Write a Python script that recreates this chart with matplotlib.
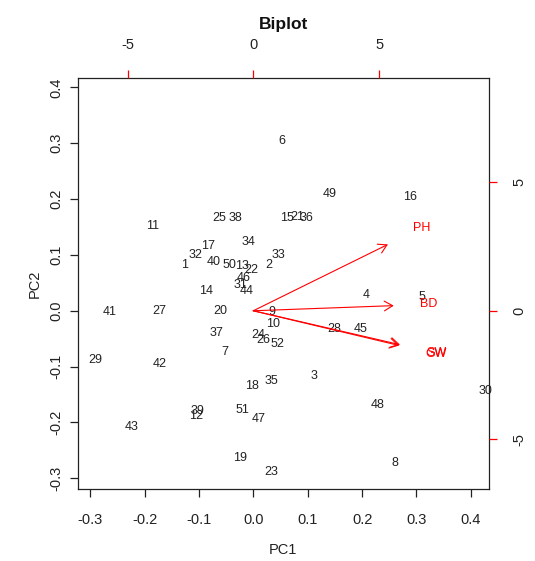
import matplotlib
matplotlib.use("Agg")
import matplotlib.pyplot as plt
import numpy as np

plt.rcParams['font.family'] = ['Liberation Sans', 'DejaVu Sans']

# Observation scores (PC1, PC2) labelled 1..52
obs_labels = [str(i) for i in range(1, 53)]
pc1 = [-0.126, 0.029, 0.112, 0.207, 0.310, 0.053, -0.052, 0.260, 0.034, 0.036,
       -0.185, -0.105, -0.020, -0.086, 0.062, 0.288, -0.083, -0.002, -0.024, -0.061,
       0.080, -0.004, 0.033, 0.009, -0.063, 0.018, -0.173, 0.149, -0.290, 0.426,
       -0.023, -0.106, 0.047, -0.009, 0.033, 0.097, -0.067, -0.032, -0.103, -0.072,
       -0.264, -0.172, -0.223, -0.012, 0.198, -0.017, 0.010, 0.228, 0.140, -0.044,
       -0.020, 0.044]
pc2 = [0.082, 0.082, -0.117, 0.028, 0.025, 0.304, -0.073, -0.273, -0.002, -0.024,
       0.152, -0.188, 0.081, 0.036, 0.166, 0.203, 0.116, -0.135, -0.264, 0.000,
       0.168, 0.073, -0.289, -0.043, 0.167, -0.052, 0.000, -0.033, -0.088, -0.144,
       0.047, 0.100, 0.100, 0.123, -0.126, 0.166, -0.039, 0.167, -0.179, 0.088,
       -0.002, -0.095, -0.209, 0.036, -0.033, 0.059, -0.193, -0.169, 0.209, 0.082,
       -0.178, -0.060]

# Variable loadings (secondary axes)
var_labels = ["PH", "BD", "SW", "GW"]
var_x = [6.69, 6.98, 7.29, 7.25]
var_y = [3.23, 0.25, -1.65, -1.69]

x_ticks = [-0.3, -0.2, -0.1, 0.0, 0.1, 0.2, 0.3, 0.4]
y_ticks = [-0.3, -0.2, -0.1, 0.0, 0.1, 0.2, 0.3, 0.4]
sec_ticks = [-5, 0, 5]

W, H = 535, 561
fig = plt.figure(figsize=(W / 100, H / 100), dpi=100)
pos = [77.7 / W, 1 - 489.3 / H, (489 - 77.7) / W, (489.3 - 78.3) / H]

ax = fig.add_axes(pos)
ax.set_xlim(-0.3228, 0.4333)
ax.set_ylim(-0.3197, 0.4164)
for s in ax.spines.values():
    s.set_linewidth(0.9)
    s.set_color('#222222')
ax.set_xticks(x_ticks)
ax.set_xticklabels([f"{t:.1f}" for t in x_ticks])
ax.set_yticks(y_ticks)
ax.set_yticklabels([f"{t:.1f}" for t in y_ticks], rotation=90, va='center')
ax.tick_params(axis='x', direction='out', length=6, width=0.9, labelsize=10.5, pad=11,
               colors='#222222')
ax.tick_params(axis='y', direction='out', length=6, width=0.9, labelsize=10.5, pad=4,
               colors='#222222')

for lab, x, y in zip(obs_labels, pc1, pc2):
    ax.text(x, y, lab, ha='center', va='center', fontsize=9, color='#222222')

ax2 = fig.add_axes(pos, frameon=False)
ax2.set_xlim(-6.98, 9.37)
ax2.set_ylim(-6.95, 9.05)
ax2.xaxis.tick_top()
ax2.yaxis.tick_right()
ax2.set_xticks(sec_ticks)
ax2.set_xticklabels([str(t) for t in sec_ticks])
ax2.set_yticks(sec_ticks)
ax2.set_yticklabels([str(t) for t in sec_ticks], rotation=90, va='center')
ax2.tick_params(axis='x', direction='out', length=6, width=0.9, labelsize=10.5, pad=13,
                color='red', labelcolor='#222222')
ax2.tick_params(axis='y', direction='out', length=6, width=0.9, labelsize=10.5, pad=11,
                color='red', labelcolor='#222222')

for lab, x, y in zip(var_labels, var_x, var_y):
    ax2.annotate("", xy=(0.8 * x, 0.8 * y), xytext=(0, 0),
                 arrowprops=dict(arrowstyle="->,head_length=0.6,head_width=0.35",
                                 color='red', lw=0.8, shrinkA=0, shrinkB=0))
    ax2.text(x, y, lab, ha='center', va='center', fontsize=9, color='red')

fig.text(283.3 / W, 1 - 25 / H, "Biplot", ha='center', va='center',
         fontsize=12.5, fontweight='bold', color='#111111')
fig.text(283.3 / W, 1 - 550 / H, "PC1", ha='center', va='center', fontsize=10.5,
         color='#222222')
fig.text(35 / W, 1 - 283.7 / H, "PC2", ha='center', va='center', fontsize=10.5,
         rotation=90, color='#222222')

fig.savefig("out.png", dpi=100)
